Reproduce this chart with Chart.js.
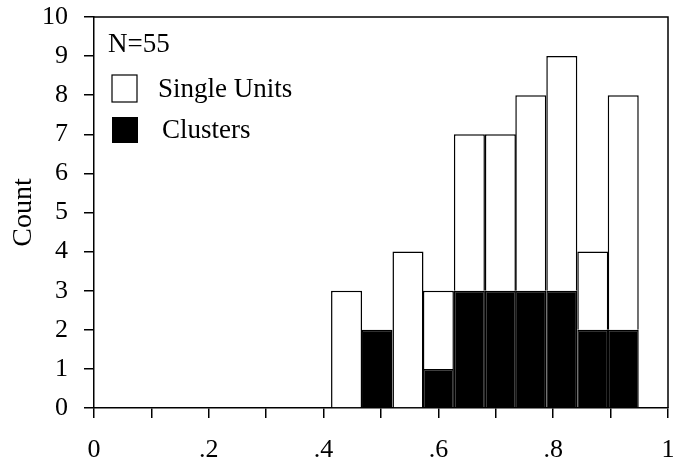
<!DOCTYPE html>
<html>
<head>
<meta charset="utf-8">
<script src="https://cdn.jsdelivr.net/npm/chart.js@4/dist/chart.umd.min.js"></script>
<style>
  html, body { margin: 0; padding: 0; background: #fff; }
  #wrap { width: 679px; height: 466px; }
</style>
</head>
<body>
<div id="wrap"><canvas id="grafico" width="679" height="466"></canvas></div>
<script>
// centros das classes (fração) e contagens por tipo
const centros = [0.440, 0.493, 0.547, 0.600, 0.654, 0.708, 0.761, 0.815, 0.869, 0.922];
const clusters = [null, 2, null, 1, 3, 3, 3, 3, 2, 2];
const singleUnits = [3, null, 4, 2, 4, 4, 5, 6, 2, 6];
const yTicks = [0, 1, 2, 3, 4, 5, 6, 7, 8, 9, 10];
const nTotal = 55;

const fonte = "'Liberation Serif', 'DejaVu Serif', serif";

function pontos(valores) {
  return centros.map((c, i) => ({ x: c, y: valores[i] }));
}

// moldura e legenda dentro da área do gráfico
const moldura = {
  id: "moldura",
  afterDraw(chart) {
    const { ctx, chartArea: a } = chart;
    ctx.save();
    ctx.strokeStyle = "#000";
    ctx.lineWidth = 1.5;
    ctx.beginPath();
    ctx.moveTo(a.left, a.top);
    ctx.lineTo(a.right, a.top);
    ctx.lineTo(a.right, a.bottom);
    ctx.stroke();

    ctx.fillStyle = "#000";
    ctx.font = "27px " + fonte;
    ctx.textBaseline = "alphabetic";
    ctx.fillText("N=" + nTotal, a.left + 14, a.top + 35);

    ctx.lineWidth = 1.2;
    ctx.fillStyle = "#fff";
    ctx.fillRect(a.left + 18, a.top + 58, 25, 27);
    ctx.strokeRect(a.left + 18, a.top + 58, 25, 27);
    ctx.fillStyle = "#000";
    ctx.fillRect(a.left + 18, a.top + 100, 26, 26);

    ctx.fillText("Single Units", a.left + 64, a.top + 80);
    ctx.fillText("Clusters", a.left + 68, a.top + 121);
    ctx.restore();
  },
};

const ctx = document.getElementById("grafico").getContext("2d");
new Chart(ctx, {
  type: "bar",
  data: {
    datasets: [
      {
        label: "Clusters",
        data: pontos(clusters),
        backgroundColor: "#000",
        borderColor: "#000",
        borderWidth: 1.5,
        barPercentage: 1.02,
        categoryPercentage: 1,
      },
      {
        label: "Single Units",
        data: pontos(singleUnits),
        backgroundColor: "#fff",
        borderColor: "#000",
        borderWidth: 1.5,
        barPercentage: 1.02,
        categoryPercentage: 1,
      },
    ],
  },
  options: {
    responsive: false,
    animation: false,
    layout: { padding: { top: 17, right: 11, left: 0, bottom: 0 } },
    plugins: {
      legend: { display: false },
      tooltip: { enabled: false },
    },
    scales: {
      x: {
        type: "linear",
        stacked: true,
        offset: false,
        min: 0,
        max: 1,
        afterFit(s) {
          s.height = 58;
          s.paddingLeft = 0;
          s.paddingRight = 0;
        },
        border: { display: true, color: "#000", width: 1.5 },
        grid: { offset: false, drawOnChartArea: false, tickLength: 10, color: "#000", lineWidth: 1.5 },
        ticks: {
          stepSize: 0.1,
          color: "#000",
          font: { family: fonte, size: 26 },
          padding: 17,
          maxRotation: 0,
          autoSkip: false,
          callback(v) {
            const d = Math.round(v * 10);
            if (d % 2 !== 0) return "";
            if (d === 0) return "0";
            if (d === 10) return "1";
            return "." + d;
          },
        },
      },
      y: {
        stacked: true,
        min: 0,
        max: 10,
        afterFit(s) {
          s.width = 94;
          s.paddingTop = 0;
          s.paddingBottom = 0;
        },
        afterBuildTicks(s) { s.ticks = yTicks.map((v) => ({ value: v })); },
        border: { display: true, color: "#000", width: 1.5 },
        grid: { drawOnChartArea: false, tickLength: 10, color: "#000", lineWidth: 1.5 },
        title: {
          display: true,
          text: "Count",
          color: "#000",
          font: { family: fonte, size: 28 },
          padding: { top: 7, bottom: 0 },
        },
        ticks: {
          color: "#000",
          font: { family: fonte, size: 26 },
          padding: 16,
        },
      },
    },
  },
  plugins: [moldura],
});
</script>
</body>
</html>
